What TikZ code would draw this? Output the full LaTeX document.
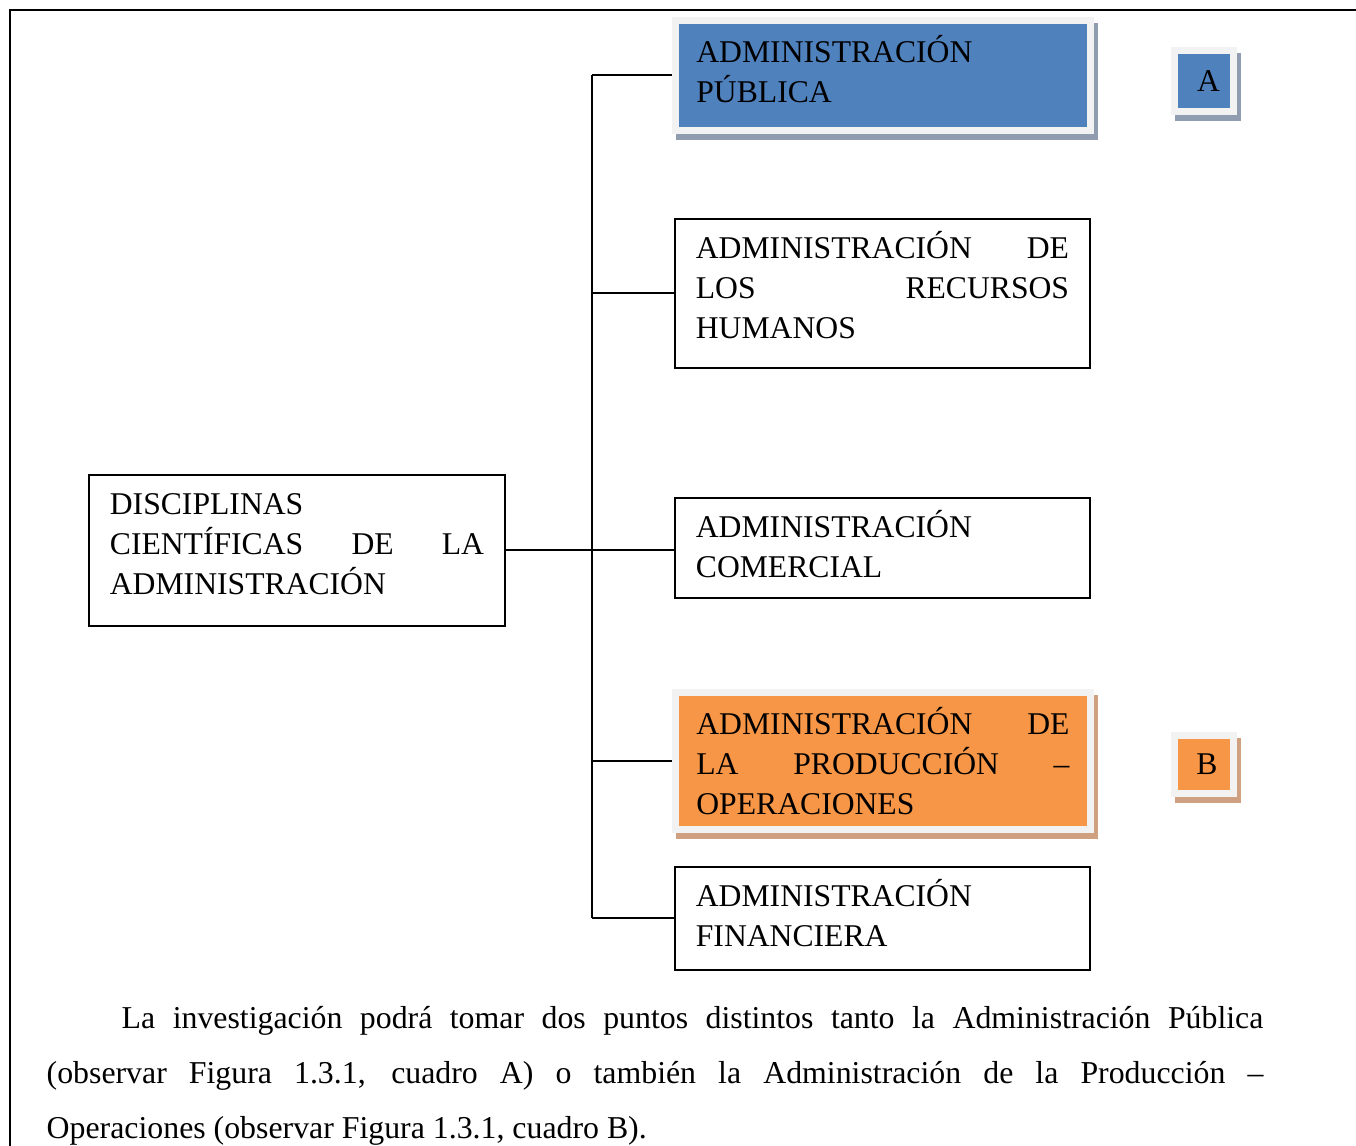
\documentclass[tikz,border=0pt]{standalone}
\usepackage{fontspec}
\setmainfont{Liberation Serif}
\definecolor{pubblue}{HTML}{4F81BD}
\definecolor{prodorange}{HTML}{F79646}
\definecolor{framegray}{HTML}{F2F2F2}
\definecolor{shadeblue}{HTML}{909DB1}
\definecolor{shadeorange}{HTML}{CFA180}
\begin{document}
\begin{tikzpicture}[x=0.01cm, y=-0.01cm,
    font=\fontsize{9pt}{11.3pt}\selectfont,
    plainbox/.style={draw, line width=0.02cm, minimum width=4.15cm, text width=3.73cm, inner xsep=0.21cm,
        inner ysep=0pt, text height=0.40cm, align=left},
    markbox/.style={plainbox, draw=framegray, line width=0.07cm, text height=0.425cm,
        preaction={draw=#1, fill=#1, line width=0.07cm, transform canvas={xshift=0.04cm, yshift=-0.06cm}}},
    letterbox/.style={draw=framegray, line width=0.07cm, minimum width=0.59cm, inner sep=0pt,
        preaction={draw=#1, fill=#1, line width=0.07cm, transform canvas={xshift=0.04cm, yshift=-0.06cm}}},
    link/.style={line width=0.02cm}]
    \useasboundingbox (0,0) rectangle (1356,1146);
    \draw[line width=0.02cm] (10,1146) -- (10,10) -- (1356,10);
    % left box
    \node[plainbox, minimum width=4.16cm, text width=3.74cm, inner xsep=0.2cm, text depth=1.11cm] (root) at (297,550.5)
        {DISCIPLINAS\\ CIENTÍFICAS\hfill DE\hfill LA\\ ADMINISTRACIÓN};
    % right column
    \node[markbox=shadeblue, fill=pubblue, text depth=0.675cm] (pub) at (883,75.5)
        {ADMINISTRACIÓN\\ PÚBLICA};
    \node[plainbox, text depth=1.09cm] (rrhh) at (882.5,293.5)
        {ADMINISTRACIÓN\hfill DE\\ LOS\hfill RECURSOS\\ HUMANOS};
    \node[plainbox, text depth=0.60cm] (com) at (882.5,548)
        {ADMINISTRACIÓN\\ COMERCIAL};
    \node[markbox=shadeorange, fill=prodorange, text depth=0.945cm] (prod) at (883,761)
        {ADMINISTRACIÓN\hfill DE\\ LA\hfill PRODUCCIÓN\hfill –\\ OPERACIONES};
    \node[plainbox, text depth=0.63cm] (fin) at (882.5,918.5)
        {ADMINISTRACIÓN\\ FINANCIERA};
    % letter boxes
    \node[letterbox=shadeblue, fill=pubblue, minimum height=0.61cm] (boxA) at (1204,81) {\hspace*{0.09cm}A};
    \node[letterbox=shadeorange, fill=prodorange, minimum height=0.58cm] (boxB) at (1204,764.5) {\hspace*{0.06cm}B};
    % connectors
    \coordinate (trunk) at (592,0);
    \draw[link] (root.east) -- (root.east -| com.west);
    \draw[link] (pub.west -| trunk) -- (fin.west -| trunk);
    \foreach \b in {pub,rrhh,prod,fin}
        \draw[link] (\b.west -| trunk) -- (\b.west);
    % text below
    \node[anchor=north west, inner sep=0pt, text width=12.16cm, align=justify,
          font=\fontsize{9.05pt}{15.6pt}\selectfont] (note) at (46,1006)
        {\hspace*{0.75cm}La investigación podrá tomar dos puntos distintos tanto la Administración Pública\linebreak
         (observar Figura 1.3.1, cuadro A) o también la Administración de la Producción –\linebreak
         Operaciones (observar Figura 1.3.1, cuadro B).};
\end{tikzpicture}
\end{document}
